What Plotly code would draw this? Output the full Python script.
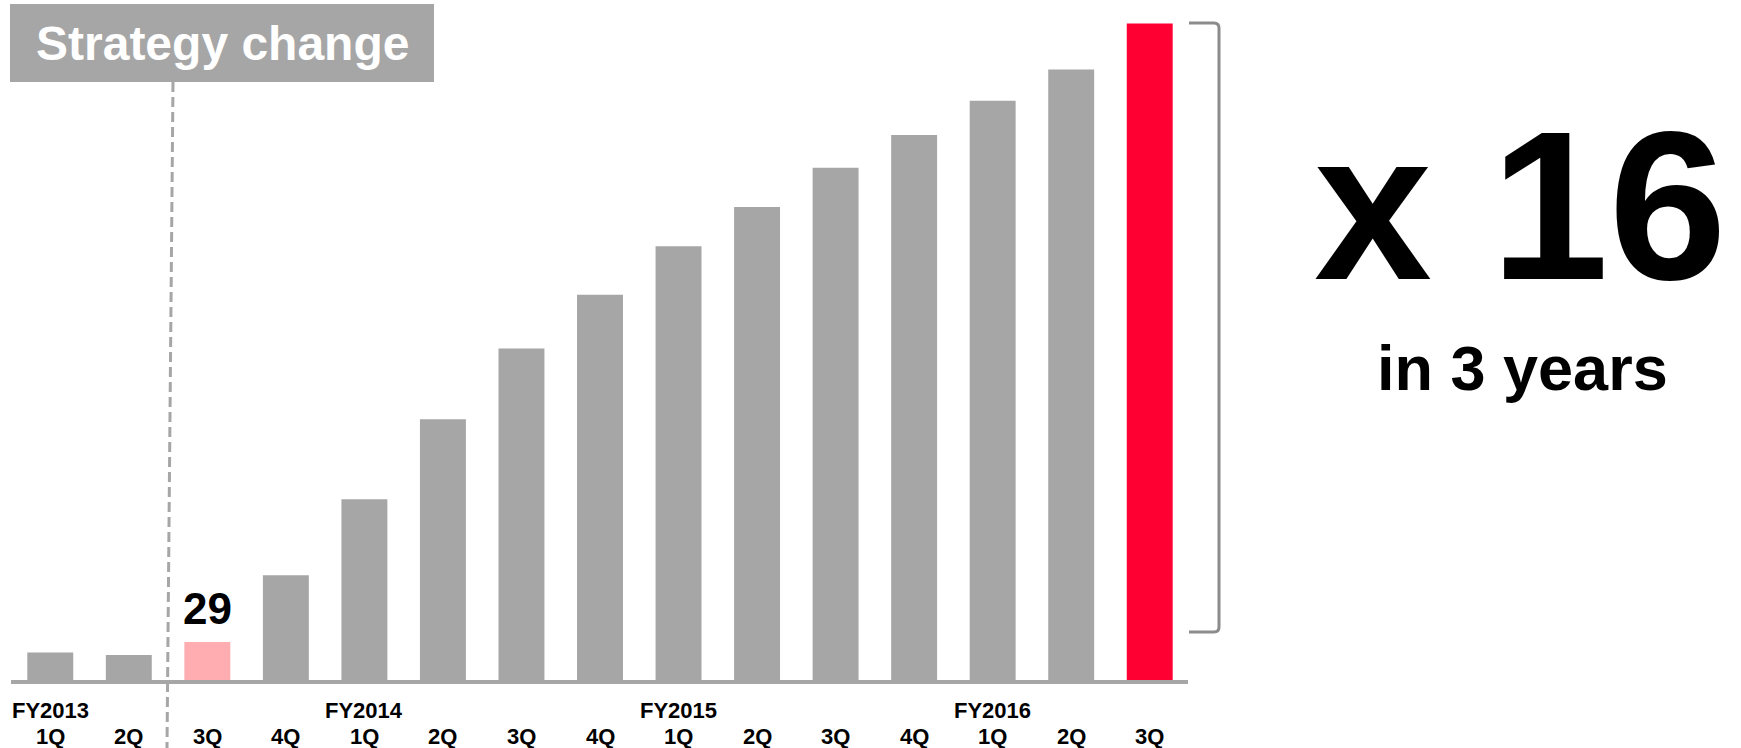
import plotly.graph_objects as go

# ---- data ----
categories = ["FY2013 1Q", "FY2013 2Q", "FY2013 3Q", "FY2013 4Q",
              "FY2014 1Q", "FY2014 2Q", "FY2014 3Q", "FY2014 4Q",
              "FY2015 1Q", "FY2015 2Q", "FY2015 3Q", "FY2015 4Q",
              "FY2016 1Q", "FY2016 2Q", "FY2016 3Q"]
values = [21, 19, 29, 80, 138, 199, 253, 294, 331, 361, 391, 416, 442, 466, 501]
year_labels = ["FY2013", "", "", "", "FY2014", "", "", "", "FY2015", "", "", "", "FY2016", "", ""]
quarter_labels = ["1Q", "2Q", "3Q", "4Q", "1Q", "2Q", "3Q", "4Q", "1Q", "2Q", "3Q", "4Q", "1Q", "2Q", "3Q"]
bar_colors = ["#a6a6a6", "#a6a6a6", "#ffadb0"] + ["#a6a6a6"] * 11 + ["#ff0033"]
highlight_index = 2
highlight_label = "29"
multiplier_text = "x 16"
period_text = "in 3 years"
banner_text = "Strategy change"

W, H = 1741, 748
L, R, T, B = 11, 552, 0, 68
PW, PH = W - L - R, H - T - B
FONT = "Liberation Sans, Arial, sans-serif"


def px(xp):
    return (xp - L) / PW


def py(yp):
    return (H - B - yp) / PH


fig = go.Figure()
fig.add_trace(go.Bar(x=categories, y=values, marker=dict(color=bar_colors, line=dict(width=0)),
                     hoverinfo="skip"))

ymax = 29 * PH / 38.0

shapes = []
# axis baseline
shapes.append(dict(type="rect", xref="paper", yref="paper", x0=px(11), x1=px(1188),
                   y0=py(684), y1=py(680), fillcolor="#a6a6a6", line=dict(width=0), layer="below"))
# banner box
shapes.append(dict(type="rect", xref="paper", yref="paper", x0=px(10), x1=px(434),
                   y0=py(82), y1=py(4), fillcolor="#a6a6a6", line=dict(width=0)))
# dashed divider
shapes.append(dict(type="line", xref="paper", yref="paper", x0=px(173), x1=px(167),
                   y0=py(82), y1=py(748), line=dict(color="#a6a6a6", width=3, dash="10px,5px")))
# bracket
bx0, bx1, r = 1189, 1219, 5
by0, by1 = 23, 632
path = (f"M {px(bx0)},{py(by0)} L {px(bx1 - r)},{py(by0)} "
        f"Q {px(bx1)},{py(by0)} {px(bx1)},{py(by0 + r)} "
        f"L {px(bx1)},{py(by1 - r)} Q {px(bx1)},{py(by1)} {px(bx1 - r)},{py(by1)} "
        f"L {px(bx0)},{py(by1)}")
shapes.append(dict(type="path", xref="paper", yref="paper", path=path,
                   line=dict(color="#8c8c8c", width=3)))

annotations = []
for c, yl, ql in zip(categories, year_labels, quarter_labels):
    if yl:
        annotations.append(dict(x=c, xref="x", y=0, yref="paper", text=f"<b>{yl}</b>",
                                showarrow=False, yanchor="middle", yshift=-30,
                                font=dict(family=FONT, size=22, color="black")))
    annotations.append(dict(x=c, xref="x", y=0, yref="paper", text=f"<b>{ql}</b>",
                            showarrow=False, yanchor="middle", yshift=-56,
                            font=dict(family=FONT, size=22, color="black")))

annotations.append(dict(x=categories[highlight_index], xref="x", y=values[highlight_index], yref="y",
                        text=f"<b>{highlight_label}</b>", showarrow=False, yanchor="bottom", yshift=7,
                        font=dict(family=FONT, size=44, color="black")))
annotations.append(dict(x=px(222), xref="paper", y=py(43), yref="paper", text=f"<b>{banner_text}</b>",
                        showarrow=False, xanchor="center", yanchor="middle",
                        font=dict(family=FONT, size=48, color="white")))
annotations.append(dict(x=px(1520), xref="paper", y=py(205), yref="paper", text=f"<b>{multiplier_text}</b>",
                        showarrow=False, xanchor="center", yanchor="middle",
                        font=dict(family=FONT, size=212, color="black")))
annotations.append(dict(x=px(1522), xref="paper", y=py(368), yref="paper", text=f"<b>{period_text}</b>",
                        showarrow=False, xanchor="center", yanchor="middle",
                        font=dict(family=FONT, size=63, color="black")))

fig.update_layout(
    width=W, height=H,
    margin=dict(l=L, r=R, t=T, b=B, pad=0),
    paper_bgcolor="white", plot_bgcolor="white",
    showlegend=False, bargap=0.415,
    xaxis=dict(visible=False, range=[-0.5, 14.5], type="category"),
    yaxis=dict(visible=False, range=[0, ymax]),
    shapes=shapes, annotations=annotations,
)

fig.write_html("out.html", config={"displayModeBar": False},
               post_script="document.body.style.margin='0';document.body.style.overflow='hidden';")
